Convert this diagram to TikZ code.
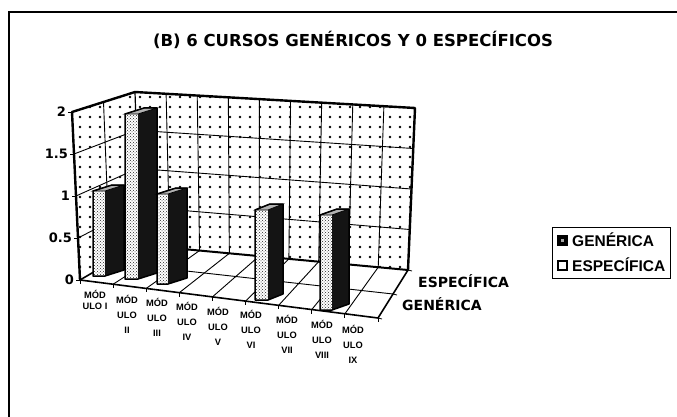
\documentclass[tikz,border=0pt]{standalone}
\usepackage{fontspec}
\setmainfont{Liberation Sans}
\newfontfamily\djv{DejaVu Sans}
\usetikzlibrary{calc,patterns,patterns.meta}
\newcommand\chartbar[5]{%
  \fill[white] (#1,#4) rectangle (#2,#5);
  \fill[pattern=crosshatch dots,pattern color=black!85] (#1,#4) rectangle (#2,#5);
  \fill[black!92] (#2,#4) -- (#3,#4-6) -- (#3,#5-6) -- (#2,#5) -- cycle;
  \filldraw[fill=black!30,line width=0.8pt] (#1,#4) -- (#2,#4) -- (#3,#4-6) -- ({#3-#2+#1},#4-6) -- cycle;
  \draw[line width=1.5pt,line join=round] (#1,#5) -- (#1,#4) -- ({#3-#2+#1},#4-6) -- (#3,#4-6) -- (#3,#5-6) -- (#2,#5) -- cycle;
}
\begin{document}
\begin{tikzpicture}[x=1pt,y=-1pt,
  frameline/.style={line width=1.4pt},
  wallline/.style={line width=2.4pt,line join=round,line cap=round},
  gridline/.style={line width=0.9pt},
  walldots/.style={pattern={Dots[distance=10pt,radius=1.35pt]},pattern color=black},
  titletext/.style={font=\djv\bfseries\fontsize{16.5}{16.5}\selectfont,inner sep=0pt,anchor=base},
  ticktext/.style={font=\djv\bfseries\fontsize{13}{13}\selectfont,inner sep=0pt,anchor=base east},
  cattext/.style={font=\bfseries\fontsize{9.3}{15}\selectfont,align=center,inner sep=0pt,anchor=north},
  serietext/.style={font=\djv\bfseries\fontsize{14}{14}\selectfont,inner sep=0pt,anchor=base west},
  legtext/.style={font=\bfseries\fontsize{15.5}{15.5}\selectfont,inner sep=0pt,anchor=base west},
]
\useasboundingbox (0,0) rectangle (677,417);
\fill[white] (0,0) rectangle (677,417);
% frame
\coordinate (FrBL) at (9,417);
\coordinate (FrTL) at (9,12);
\coordinate (FrTR) at (677,12);
\draw[frameline] (FrBL) -- (FrTL) -- (FrTR);
% title
\node[titletext] (title) at (353,46.5) {(B) 6 CURSOS GENÉRICOS Y 0 ESPECÍFICOS};
% corners
\coordinate (ST) at (72,112);
\coordinate (FL) at (80,280);
\coordinate (BTL) at (135,92);
\coordinate (BBL) at (140,245);
\coordinate (BTR) at (415,108);
\coordinate (BBR) at (408,270);
\coordinate (FR) at (378,318);
% floor
\fill[white] (FL) -- (FR) -- (BBR) -- (BBL) -- cycle;
\foreach \k in {1,...,8} \draw[gridline] ($(FL)!\k/9!(FR)$) -- ($(BBL)!\k/9!(BBR)$);
\draw[gridline] ($(FL)!0.5!(BBL)$) -- ($(FR)!0.5!(BBR)$);
\foreach \k in {0,...,9} \draw[line width=0.8pt] ($(FL)!\k/9!(FR)$) -- ++(0,4);
\foreach \k in {0,1,2} \draw[line width=0.8pt] ($(FR)!\k/2!(BBR)$) -- ++(4,1);
\draw[line width=1.6pt,line join=round] (FL) -- (FR) -- (BBR);
% side wall
\fill[white] (ST) -- (BTL) -- (BBL) -- (FL) -- cycle;
\fill[walldots] (ST) -- (BTL) -- (BBL) -- (FL) -- cycle;
\foreach \j in {1,2,3} \draw[gridline] ($(ST)!\j/4!(FL)$) -- ($(BTL)!\j/4!(BBL)$);
\draw[gridline] ($(ST)!0.5!(BTL)$) -- ($(FL)!0.5!(BBL)$);
\draw[line width=1.6pt] (FL) -- (BBL);
% back wall
\fill[white] (BTL) -- (BTR) -- (BBR) -- (BBL) -- cycle;
\fill[walldots] (BTL) -- (BTR) -- (BBR) -- (BBL) -- cycle;
\foreach \k in {1,...,8} \draw[gridline] ($(BTL)!\k/9!(BTR)$) -- ($(BBL)!\k/9!(BBR)$);
\foreach \j in {1,2,3} \draw[gridline] ($(BTL)!\j/4!(BBL)$) -- ($(BTR)!\j/4!(BBR)$);
\draw[line width=1.2pt] (BTL) -- (BBL);
\draw[line width=2pt] (BBL) -- (BBR);
\draw[wallline] (FL) -- (ST) -- (BTL) -- (BTR) -- (BBR);
% y axis
\foreach \j/\v in {0/2,1/1.5,2/1,3/0.5,4/0}{
  \coordinate (tk\j) at ($(ST)!\j/4!(FL)$);
  \draw[line width=0.9pt] (tk\j) -- ++(-4,0);
  \node[ticktext] (yl\j) at ($(tk\j)+(-6,4.7)$) {\v};
}
% bars (GENÉRICA row)
\chartbar{93}{105}{124}{191}{276}
\chartbar{125}{138}{157}{114}{279}
\chartbar{157}{168}{187}{194}{284}
\chartbar{255}{268}{283}{210}{300}
\chartbar{320}{332}{349}{215}{310}
% category labels
\node[cattext,font=\bfseries\fontsize{9.3}{11}\selectfont] (c1) at (95,289.8) {MÓD\\ULO I};
\node[cattext] (c2) at (127,294.8) {MÓD\\ULO\\II};
\node[cattext] (c3) at (157,297.8) {MÓD\\ULO\\III};
\node[cattext] (c4) at (187,301.8) {MÓD\\ULO\\IV};
\node[cattext] (c5) at (218,306.8) {MÓD\\ULO\\V};
\node[cattext] (c6) at (251,309.8) {MÓD\\ULO\\VI};
\node[cattext] (c7) at (287,314.8) {MÓD\\ULO\\VII};
\node[cattext] (c8) at (322,319.8) {MÓD\\ULO\\VIII};
\node[cattext] (c9) at (353,324.8) {MÓD\\ULO\\IX};
% series labels
\node[serietext] (sE) at (418,287) {ESPECÍFICA};
\node[serietext] (sG) at (402,310) {GENÉRICA};
% legend
\node[draw,line width=1pt,minimum width=118pt,minimum height=51pt,inner sep=0pt] (legbox) at (611,252.5) {};
\node[fill=black,minimum size=11pt,inner sep=0pt] (sqG) at (562.5,240.5) {};
\node[fill=black!35,minimum size=3.5pt,inner sep=0pt] (sqGi) at (562.5,240.5) {};
\node[draw,line width=2.2pt,fill=white,minimum size=8.5pt,inner sep=0pt] (sqE) at (562.5,265.5) {};
\node[legtext] (lG) at (572,246) {GENÉRICA};
\node[legtext] (lE) at (572,271) {ESPECÍFICA};
\end{tikzpicture}
\end{document}
